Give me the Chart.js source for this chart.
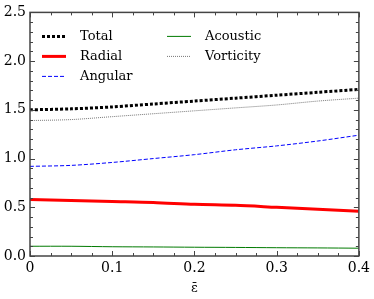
<!DOCTYPE html>
<html>
<head>
<meta charset="utf-8">
<script src="https://cdn.jsdelivr.net/npm/chart.js@4.4.0/dist/chart.umd.min.js"></script>
<style>
  html, body { margin: 0; padding: 0; background: #fff; }
  #wrap { width: 374px; height: 299px; }
</style>
</head>
<body>
<div id="wrap"><canvas id="chart"></canvas></div>
<script>
// data
var eps = [0, 0.05, 0.1, 0.15, 0.2, 0.25, 0.3, 0.35, 0.4];
var total     = [1.50, 1.51, 1.53, 1.56, 1.59, 1.62, 1.65, 1.68, 1.71];
var radial    = [0.58, 0.57, 0.56, 0.55, 0.53, 0.52, 0.50, 0.48, 0.46];
var angular   = [0.92, 0.93, 0.96, 1.00, 1.04, 1.09, 1.13, 1.18, 1.24];
var acoustic  = [0.10, 0.10, 0.095, 0.093, 0.09, 0.088, 0.085, 0.083, 0.08];
var vorticity = [1.39, 1.40, 1.43, 1.46, 1.49, 1.52, 1.55, 1.59, 1.62];
var xTicks = [0, 0.1, 0.2, 0.3, 0.4];
var yTicks = [0, 0.5, 1.0, 1.5, 2.0, 2.5];

var FONT = '"DejaVu Serif", serif';

function pts(ys) {
    return eps.map(function (x, i) { return { x: x, y: ys[i] }; });
}

var series = [
    { label: 'Total',     data: total,     color: '#000000', width: 3,   dash: [3, 2] },
    { label: 'Radial',    data: radial,    color: '#ff0000', width: 3,   dash: [] },
    { label: 'Angular',   data: angular,   color: '#0000ff', width: 1,   dash: [4, 2] },
    { label: 'Acoustic',  data: acoustic,  color: '#007a00', width: 1,   dash: [] },
    { label: 'Vorticity', data: vorticity, color: '#777777', width: 1,   dash: [1, 1] }
];

/* inner ticks, frame and matplotlib-style legend */
var frame = {
    id: 'frame',
    afterDraw: function (chart) {
        var c = chart.ctx, a = chart.chartArea;
        var xs = chart.scales.x, ys = chart.scales.y;
        c.save();
        c.strokeStyle = '#444';
        c.lineWidth = 1;
        var i, p;
        // x ticks (major every 0.1, minor every 0.025)
        for (i = 0; i <= 16; i++) {
            p = Math.round(xs.getPixelForValue(i * 0.025)) + 0.5;
            var lx = (i % 4 === 0) ? 5 : 3;
            c.beginPath();
            c.moveTo(p, a.bottom); c.lineTo(p, a.bottom - lx);
            c.moveTo(p, a.top); c.lineTo(p, a.top + lx);
            c.stroke();
        }
        // y ticks (major every 0.5, minor every 0.1)
        for (i = 0; i <= 25; i++) {
            p = Math.round(ys.getPixelForValue(i * 0.1)) + 0.5;
            var ly = (i % 5 === 0) ? 5 : 3;
            c.beginPath();
            c.moveTo(a.left, p); c.lineTo(a.left + ly, p);
            c.moveTo(a.right, p); c.lineTo(a.right - ly, p);
            c.stroke();
        }
        c.lineWidth = 1.5;
        c.strokeRect(a.left, a.top, a.right - a.left, a.bottom - a.top);

        // legend, two columns filled top to bottom
        c.font = '13px ' + FONT;
        c.textBaseline = 'middle';
        c.fillStyle = '#000';
        series.forEach(function (s, k) {
            var col = k < 3 ? 0 : 1, row = k < 3 ? k : k - 3;
            var x0 = a.left + (col ? 137 : 12), y0 = a.top + 24 + row * 20;
            c.strokeStyle = s.color;
            c.lineWidth = s.width;
            c.setLineDash(s.dash);
            c.beginPath();
            c.moveTo(x0, y0); c.lineTo(x0 + 24, y0);
            c.stroke();
            c.setLineDash([]);
            c.fillText(s.label, x0 + 38, y0);
        });
        c.restore();
    }
};

new Chart(document.getElementById('chart'), {
    type: 'line',
    data: {
        datasets: series.map(function (s) {
            return {
                label: s.label,
                data: pts(s.data),
                borderColor: s.color,
                borderWidth: s.width,
                borderDash: s.dash,
                pointRadius: 0,
                tension: 0.3,
                fill: false
            };
        })
    },
    options: {
        responsive: true,
        maintainAspectRatio: false,
        animation: false,
        layout: { padding: { top: 8, right: 11, left: 0, bottom: 0 } },
        plugins: { legend: { display: false }, tooltip: { enabled: false } },
        scales: {
            x: {
                type: 'linear',
                min: 0, max: 0.4,
                afterBuildTicks: function (s) { s.ticks = xTicks.map(function (v) { return { value: v }; }); },
                afterFit: function (s) { s.height = 43; },
                grid: { display: false, drawTicks: false },
                border: { display: false },
                ticks: {
                    color: '#000',
                    padding: 4,
                    maxRotation: 0,
                    font: { family: FONT, size: 14 },
                    callback: function (v) { return v === 0 ? '0' : v.toFixed(1); }
                },
                title: {
                    display: true,
                    text: 'ε\u0304',
                    color: '#000',
                    padding: { top: 2, bottom: 3 },
                    font: { family: FONT, size: 13 }
                }
            },
            y: {
                min: 0, max: 2.5,
                afterBuildTicks: function (s) { s.ticks = yTicks.map(function (v) { return { value: v }; }); },
                afterFit: function (s) { s.width = 30; },
                grid: { display: false, drawTicks: false },
                border: { display: false },
                ticks: {
                    color: '#000',
                    padding: 4,
                    font: { family: FONT, size: 14 },
                    callback: function (v) { return v.toFixed(1); }
                }
            }
        }
    },
    plugins: [frame]
});
</script>
</body>
</html>
